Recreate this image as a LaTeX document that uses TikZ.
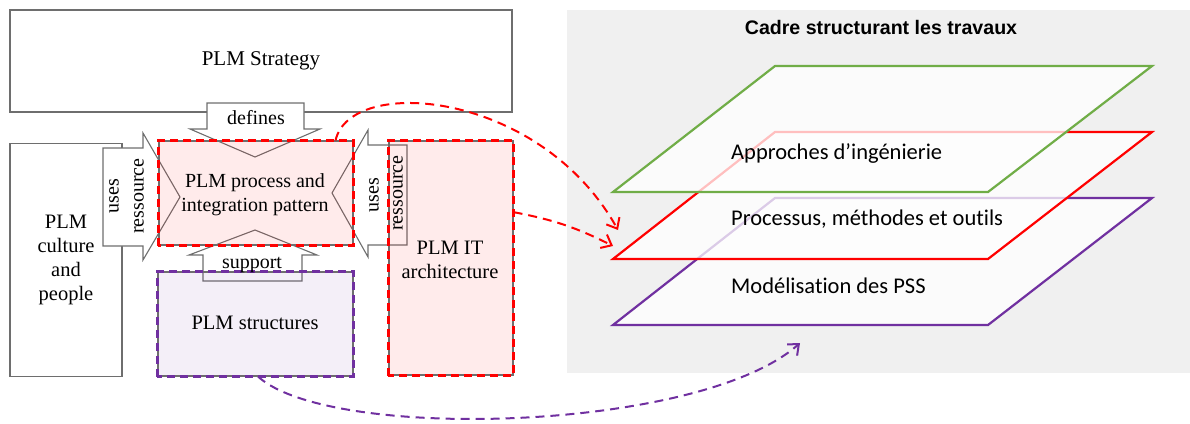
\documentclass[tikz,border=0pt]{standalone}
\usepackage{fontspec}
\setmainfont{Liberation Serif}
\newfontfamily\calib[Ligatures=NoCommon]{Carlito}
\newfontfamily\arialf{Liberation Sans}
\usetikzlibrary{arrows.meta,calc}
\definecolor{plmred}{RGB}{255,0,0}
\definecolor{plmpurple}{RGB}{112,48,160}
\definecolor{plmgreen}{RGB}{112,173,71}
\definecolor{edgegray}{RGB}{110,110,110}
\definecolor{panelgray}{RGB}{240,240,240}
\begin{document}
\begin{tikzpicture}[x=1pt,y=-1pt,
  txt/.style={font=\fontsize{20}{24}\selectfont, align=center, inner sep=0pt},
  plainbox/.style={draw=edgegray, line width=1.1pt, rectangle, inner sep=0pt, align=center, font=\fontsize{20.5}{24}\selectfont},
  tintbox/.style={plainbox, fill opacity=0.08, text opacity=1},
  blockarrow/.style={draw=edgegray, line width=1.1pt, fill=white},
  reddash/.style={draw=plmred, line width=2.2pt, dash pattern=on 8pt off 5pt},
  purpdash/.style={draw=plmpurple, line width=2.2pt, dash pattern=on 8pt off 5pt},
  link/.style={line width=2pt, dash pattern=on 9pt off 6pt, -{Straight Barb[length=9pt,width=15pt]}},
  layer/.style={line width=2.2pt, fill=white, fill opacity=0.75},
  laytxt/.style={font=\calib\fontsize{22.5}{26}\selectfont, anchor=west, inner sep=0pt},
]
\useasboundingbox (0,0) rectangle (1190,423);
% right panel
\fill[panelgray] (567,10) rectangle (1190,373);
\node[font=\arialf\bfseries\fontsize{19.6}{23}\selectfont] (title) at (881,27) {Cadre structurant les travaux};

% left plain boxes
\node[plainbox, minimum width=502pt, minimum height=102pt, font=\fontsize{21}{24}\selectfont] (strategy) at (261,61) {PLM Strategy};
\node[plainbox, minimum width=112pt, minimum height=233pt] (culture) at (66,260) {PLM\\culture\\and\\people};

% block arrows
\draw[blockarrow] (207,103) -- (304,103) -- (304,129) -- (320,129) -- (255,157) -- (190,129) -- (207,129) -- cycle;
\draw[blockarrow] (203,281) -- (302,281) -- (302,255) -- (317,255) -- (255,230) -- (189,255) -- (203,255) -- cycle;
\draw[blockarrow] (103,148) -- (143,148) -- (143,133) -- (180,197) -- (143,260) -- (143,246) -- (103,246) -- cycle;
\draw[blockarrow] (407,145) -- (368,145) -- (368,130) -- (332,193) -- (368,257) -- (368,245) -- (407,245) -- cycle;

% tinted boxes
\node[tintbox, fill=plmred, minimum width=194pt, minimum height=104pt] (proc) at (256,193) {};
\draw[reddash] (proc.south west) rectangle (proc.north east);
\node[tintbox, fill=plmred, minimum width=124pt, minimum height=234pt] (itarch) at (451,258) {};
\draw[reddash] (itarch.south west) rectangle (itarch.north east);
\node[tintbox, fill=plmpurple, minimum width=195pt, minimum height=104pt] (struct) at (255.5,324) {};
\draw[purpdash] (struct.south west) rectangle (struct.north east);

% box texts
\node[txt] (proctext) at (255,195) {PLM process and\\integration pattern};
\node[txt, font=\fontsize{20.5}{24}\selectfont] (ittext) at (450,260) {PLM IT\\architecture};
\node[txt, font=\fontsize{20.5}{24}\selectfont] (structtext) at (255,323) {PLM structures};

% arrow labels
\node[txt] (defines) at (256,118) {defines};
\node[txt] (support) at (252,265) {support};
\node[txt, rotate=90] (usesL) at (114,196) {uses};
\node[txt, rotate=90] (resL) at (139,196) {ressource};
\node[txt, rotate=90] (usesR) at (374,195) {uses};
\node[txt, rotate=90] (resR) at (398,193) {ressource};

% layers
\draw[layer, draw=plmpurple] (613,325) -- (988,325) -- (1152,198) -- (775,198) -- cycle;
\draw[layer, draw=plmred] (613,259) -- (988,259) -- (1152,132) -- (775,132) -- cycle;
\draw[layer, draw=plmgreen] (613,192) -- (988,192) -- (1152,66) -- (775,66) -- cycle;
\node[laytxt] (l1) at (731,153) {Approches d’ingénierie};
\node[laytxt] (l2) at (731,219) {Processus, méthodes et outils};
\node[laytxt] (l3) at (731,286) {Modélisation des PSS};

% connectors
\coordinate (redtgtA) at (618,230);
\coordinate (redtgtB) at (613,246);
\coordinate (purptgt) at (800,343);
\draw[link, plmred] ([xshift=-18pt]proc.north east) .. controls (350,75) and (540,90) .. (redtgtA);
\draw[link, plmred] ($(itarch.north east)!0.305!(itarch.south east)$) to[bend left=8] (redtgtB);
\draw[link, plmpurple] ([xshift=2.5pt]struct.south) .. controls (330,442) and (700,432) .. (purptgt);
\end{tikzpicture}
\end{document}
